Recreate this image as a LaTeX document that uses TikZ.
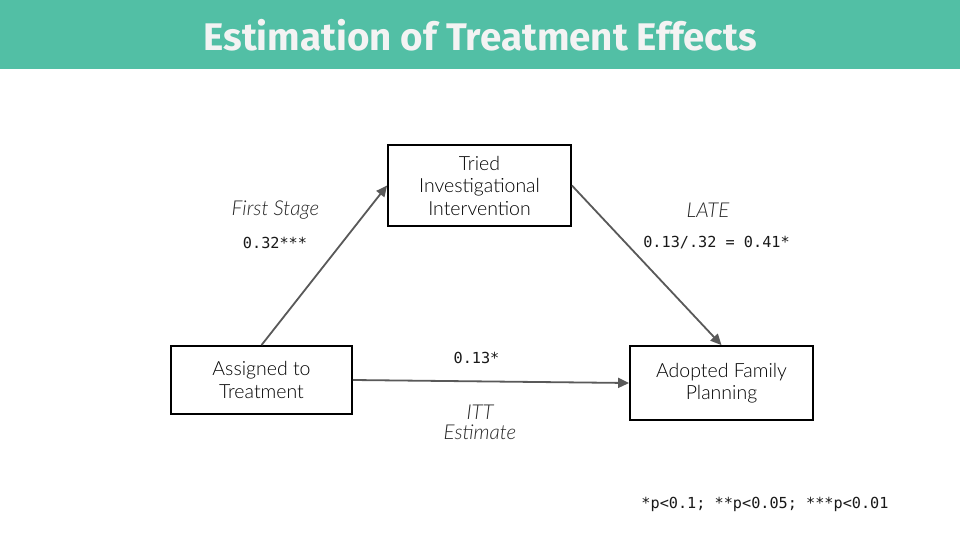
\documentclass[tikz,border=0pt]{standalone}
\usepackage{fontspec}
\setmainfont{Lato Light}
\newfontfamily\titlefont{Fira Sans}
\newfontfamily\monofont{DejaVu Sans Mono}
\usetikzlibrary{arrows.meta}
\definecolor{teal}{HTML}{52BFA5}
\definecolor{titletext}{HTML}{F3F3F3}
\definecolor{arrowgray}{HTML}{595959}
\tikzset{
  box/.style={draw=black, line width=1.8pt, fill=white, align=center, inner sep=0pt,
    font=\fontsize{19.5}{22.5}\selectfont},
  conn/.style={draw=arrowgray, line width=1.8pt, -{Triangle[length=11pt,width=10pt]}},
  lbl/.style={font=\fontsize{20.5}{22}\selectfont\itshape, text=black!85},
  num/.style={font=\monofont\fontsize{15.2}{18}\selectfont, text=black!90}
}
\begin{document}
\begin{tikzpicture}[x=1pt,y=-1pt]
\useasboundingbox (0,0) rectangle (960,540);
\fill[white] (0,0) rectangle (960,540);
\fill[teal] (0,0) rectangle (960,69);
\node[font=\titlefont\bfseries\fontsize{38.5}{42}\selectfont, text=titletext] (title) at (480,35) {Estimation of Treatment Effects};

\node[box, minimum width=183pt, minimum height=81pt] (tried) at (479.5,185.5) {Tried\\Investigational\\Intervention};
\node[box, minimum width=181pt, minimum height=68pt] (assigned) at (261.5,380) {Assigned to\\Treatment};
\node[box, minimum width=183pt, minimum height=74pt] (adopted) at (721.5,383) {Adopted Family\\Planning};

\draw[conn] (assigned.north) -- (tried.west);
\draw[conn] (tried.east) -- (adopted.north);
\draw[conn] (assigned.east) -- (adopted.west);

\node[lbl] (fs) at (275.5,210) {First Stage};
\node[num] (fsn) at (275,243) {0.32***};
\node[lbl] (late) at (708,210) {LATE};
\node[num] (laten) at (716.5,243) {0.13/.32 = 0.41*};
\node[num] (ittn) at (476.5,358) {0.13*};
\node[lbl, align=center, font=\fontsize{20.5}{20}\selectfont\itshape] (itt) at (480,422) {ITT\\Estimate};
\node[num] (foot) at (765,504) {*p<0.1; **p<0.05; ***p<0.01};
\end{tikzpicture}
\end{document}
